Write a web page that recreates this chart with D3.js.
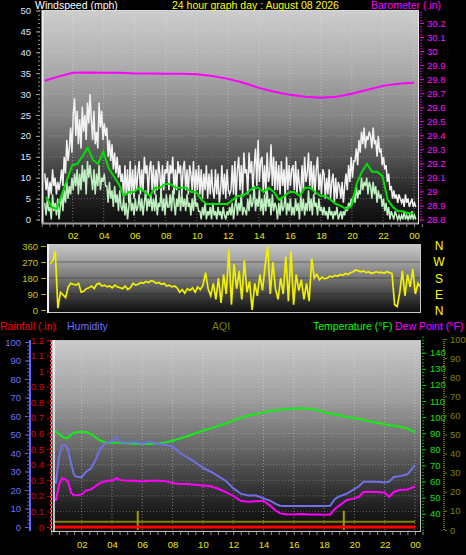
<!DOCTYPE html>
<html><head><meta charset="utf-8">
<script src="https://cdn.jsdelivr.net/npm/d3@7"></script>
<style>body{margin:0;background:#000}svg{display:block}text{font-family:"Liberation Sans",Arial,sans-serif}</style>
</head><body><svg id="c" width="466" height="555"></svg>
<script>
// ---------- DATA ----------
const hourLabels = ["02","04","06","08","10","12","14","16","18","20","22","00"];
// wind samples every 5 min starting 00:12
const windStart = 0.2, windStep = 1/12;
const gust = [11,7,10,5,9,6,12,8,10,6,9,7, 9,12,8,15,11,19,14,17,22,16,25,29,
  20,26,18,24,17,27,21,25,19,28,23,30, 24,19,26,18,21,17,28,22,26,19,23,20,
  22,15,19,14,18,12,16,11,15,10,13,9, 11,5,13,6,12,4,14,6,12,5,13,7,
  11,14,6,12,7,15,11,13,6,12,14,7, 13,6,12,7,14,11,6,13,7,12,11,14,
  7,13,11,15,6,12,7,14,11,13,6,12, 14,7,12,6,13,11,7,14,6,12,7,13,
  6,12,5,11,7,13,5,11,6,12,7,5, 12,6,11,4,7,13,6,11,5,12,7,6,
  7,13,6,14,5,12,15,7,13,6,16,11, 12,6,16,11,14,7,13,17,8,19,9,14,
  15,7,13,6,16,9,11,18,8,15,7,14, 7,13,6,14,8,12,5,15,7,13,8,12,
  13,7,14,6,12,8,6,13,7,15,9,11, 16,8,14,7,13,6,12,15,7,11,6,12,
  11,5,10,6,12,5,9,11,4,10,5,9, 8,5,9,4,8,11,7,13,9,15,10,14,
  14,17,13,19,16,21,18,22,17,20,19,21, 20,17,22,18,19,15,20,16,17,13,15,12,
  13,9,11,7,8,5,7,5,6,4,6,5, 4,5,3,6,4,5,3,4,5,3,4,3];
const speed = [4,1,5,2,3,0,6,2,4,1,5,0, 3,6,2,7,4,9,5,8,6,10,7,11,
  8,12,6,11,7,13,9,12,6,14,10,13, 10,7,12,6,11,8,13,7,10,9,11,8,
  8,4,9,5,7,3,8,4,6,2,7,3, 2,5,1,4,0,3,6,2,4,1,5,2,
  3,6,2,5,1,4,7,2,5,3,6,2, 5,2,6,1,4,3,7,2,5,1,6,3,
  3,6,2,7,4,1,5,3,7,2,6,3, 5,2,6,3,4,1,5,2,6,3,4,2,
  2,0,3,1,4,0,2,1,3,0,4,1, 2,0,3,1,2,0,3,1,0,2,1,3,
  1,4,0,3,5,1,4,2,6,1,3,2, 1,5,2,6,3,4,8,2,5,3,7,2,
  5,1,6,2,7,3,5,1,6,2,4,3, 0,4,1,5,2,3,6,1,4,2,5,1,
  3,1,5,2,4,0,6,2,5,1,4,2, 7,2,5,1,6,3,4,1,5,2,3,1,
  3,1,2,0,3,1,2,0,2,1,3,0, 1,2,0,2,1,3,2,4,3,5,4,6,
  4,8,5,7,6,10,7,9,8,10,6,9, 8,5,9,6,8,4,7,5,6,3,5,2,
  4,1,3,0,2,1,0,2,1,0,1,0, 1,0,2,0,1,0,1,0,2,0,1,0];
// average wind every 20 min starting 00:18
const avgStart = 0.3, avgStep = 1/3;
const avgWind = [5.5,3,2.5,6,9.5,13, 13.3,15.2,17.2,14.3,13.3,16.2, 12.4,10.4,8.5,5.6,6.6,6.6,
  7.6,6.6,5.6,7.6,7.6,8.5, 8.5,7.6,7.6,7.6,6.6,6.6, 4.7,3.7,3.7,3.7,3.7,3.7,
  4.7,5.6,5.6,6.6,7.6,7.6, 6.6,7.6,6.6,4.7,5.6,6.6, 6.6,5.6,7.6,7.6,6.6,5.6,
  5.6,4.7,3.7,3.2,2.5,3.2, 8.5,11.4,13.3,11.4,11.4,10.4, 4.7,3,2,2,1.5,1.5];
// barometer hourly
const baroHours = [0.2,1,2,3,4,5,6,7,8,9,10,11,12,13,14,15,16,17,18,19,20,21,22,23,24];
const baro = [29.788,29.816,29.845,29.848,29.845,29.845,29.841,29.841,29.838,29.838,29.834,29.823,29.802,
  29.774,29.738,29.710,29.688,29.674,29.667,29.674,29.696,29.724,29.752,29.767,29.774];
// wind direction every 10 min starting 00:12
const dirStart = 0.2, dirStep = 1/6;
const windDir = [262,275,330,10,100,85,70,130,150,145,140,150,100,105,120,125,135,120,145,150,
  135,140,130,135,125,140,130,125,120,135,115,125,150,140,145,155,150,160,155,165,
  160,150,155,145,150,135,140,130,135,125,100,115,95,120,110,125,100,130,115,140,
  210,120,80,150,60,180,40,200,90,340,30,260,120,220,60,280,100,160,0,150,
  80,200,110,250,360,90,270,120,60,180,90,300,50,330,30,200,110,170,60,150,
  50,290,180,200,170,185,175,180,190,185,195,190,200,195,205,200,210,215,225,220,
  215,220,210,215,205,210,215,210,212,208,215,210,205,30,20,100,220,80,200,130,
  230,90,150,130];
const dirLabels = ["N","W","S","E","N"];
// temperature / humidity / dew point
const thHours = [0.1,0.3,0.5,0.7,0.9,1.1,1.3,1.5,1.7,2.0,2.3,2.6,2.9,3.2,3.5,3.8,4.1,4.3,4.5,5,5.5,6,6.5,7,7.5,8,8.5,9,9.5,10,
  10.5,11,11.5,12,12.5,13,13.5,14,14.5,14.8,15.1,15.5,16,16.5,17,17.5,18,18.4,18.7,19,19.5,20,20.3,20.6,21,21.5,22,22.3,22.6,23,23.5,24];
const temperature = [91.4,91,89.5,88,87,87,89,90.5,90.8,90.8,90.8,89.5,87.5,85.5,84.5,84,84,84,84,83.8,83.5,83.3,83.3,83.6,84.2,85.3,86.8,88.3,90,91.5,
  93,94.5,96,97.8,99.5,101,102,102.8,104,104.3,104.6,105,105.3,105.5,105.2,104.5,103,102.3,101.8,101.2,100,99.3,98.8,98.2,97.4,96.5,95.6,95,94.6,94,93,90.5];
const humidity = [24,24,38,44,44.5,42,34,28,27,27,30,31.5,36,42,45,46,46.5,48.5,46,45.5,46,45,46,45,44.5,43.5,40,37.5,35,32,
  30,27.5,25,21,18,17,17,15.5,14,12.5,11.5,11.3,11.3,11.3,11.3,11.3,11.3,11.5,15,16.5,18,20.5,22,24.5,24.5,24.5,24,24.5,27,27.5,28.5,33.5];
const dewPoint = [48.5,48.5,58,62,61.5,60,53,51.5,51.5,52,54.5,55,57,59,60,60.5,60.8,62,61,60.5,60.5,60,60.5,60.5,60.3,59,58.5,58.5,58,57.5,
  57,55.5,53.5,51,48,47.5,47.8,48,44.5,42,40.2,39.7,39.5,39.8,39.5,39.5,39.3,39.5,43,45,48.5,49.5,50.5,53.5,53.6,53.5,53,50.5,53.5,54.7,55,57];
// hourly rain and AQI
const hourly = d3.range(0, 25);
const rainfall = [0,0,0,0,0,0,0,0,0,0,0,0,0,0,0,0,0,0,0,0,0,0,0,0,0];
const aqi = [4.3,4.3,4.3,4.3,4.3,4.3,4.3,4.3,4.3,4.3,4.3,4.3,4.3,4.3,4.3,4.3,4.3,4.3,4.3,4.3,4.3,4.3,4.3,4.3,4.3];
const aqiSpikeHours = [5.7, 19.3];
const aqiSpikeValues = [10, 10];

// ---------- DRAW ----------
const svg = d3.select("#c");
svg.append("rect").attr("width",466).attr("height",555).attr("fill","#000");
const defs = svg.append("defs");
function grad(id, stops){
  const g = defs.append("linearGradient").attr("id",id).attr("x1",0).attr("y1",0).attr("x2",0).attr("y2",1);
  stops.forEach(([o,c]) => g.append("stop").attr("offset",o).attr("stop-color",c));
}
grad("gTop", [[0,"#cdcdcd"],[0.25,"#afafaf"],[0.5,"#848484"],[0.7,"#505050"],[0.85,"#262626"],[1,"#0c0c0c"]]);
grad("gDir", [[0,"#c8c8c8"],[0.3,"#9a9a9a"],[0.55,"#6a6a6a"],[0.8,"#333"],[1,"#0e0e0e"]]);
grad("gBot", [[0,"#cbcbcb"],[0.3,"#a0a0a0"],[0.55,"#6a6a6a"],[0.75,"#3a3a3a"],[0.9,"#191919"],[1,"#0a0a0a"]]);
function clip(id,x,y,w,h){ defs.append("clipPath").attr("id",id).append("rect").attr("x",x).attr("y",y).attr("width",w).attr("height",h); }

const hourTicks = hourLabels.map((d,i)=>2*(i+1));
const fmtHour = h => hourLabels[h/2-1];

// ===== TOP: wind / barometer =====
const T = {x0:42, x1:419, y0:10, y1:224};
const xW = d3.scaleLinear().domain([0,24]).range([41.7,414]);
const yW = d3.scaleLinear().domain([0,50]).range([219.5,10.5]);
const yB = d3.scaleLinear().domain([28.8,30.2]).range([219.5,23]);
svg.append("rect").attr("x",T.x0).attr("y",T.y0).attr("width",T.x1-T.x0).attr("height",T.y1-T.y0).attr("fill","url(#gTop)");
clip("cTop",T.x0+1,T.y0+1,T.x1-T.x0-2,T.y1-T.y0-2);
const gTopGrid = svg.append("g");
hourTicks.forEach(h=>gTopGrid.append("line").attr("x1",xW(h)).attr("x2",xW(h)).attr("y1",T.y0).attr("y2",T.y1)
  .attr("stroke","rgba(230,230,230,0.45)").attr("stroke-dasharray","1,2"));
d3.range(5,50,5).forEach(v=>gTopGrid.append("line").attr("x1",T.x0).attr("x2",T.x1).attr("y1",yW(v)).attr("y2",yW(v))
  .attr("stroke","rgba(230,230,230,0.3)").attr("stroke-dasharray","1,2"));
const gTopData = svg.append("g").attr("clip-path","url(#cTop)");
const lineW = (start,step)=>d3.line().x((d,i)=>xW(start+i*step)).y(d=>yW(d));
gTopData.append("path").datum(gust).attr("d",lineW(windStart,windStep)).attr("fill","none").attr("stroke","#f2f2f2").attr("stroke-width",1.5);
gTopData.append("path").datum(speed).attr("d",lineW(windStart,windStep)).attr("fill","none").attr("stroke","#bff0bf").attr("stroke-width",1.5);
gTopData.append("path").datum(avgWind).attr("d",lineW(avgStart,avgStep)).attr("fill","none").attr("stroke","#00e000").attr("stroke-width",2);
gTopData.append("path").datum(baro).attr("d",d3.line().x((d,i)=>xW(baroHours[i])).y(d=>yB(d))).attr("fill","none").attr("stroke","#ff00ff").attr("stroke-width",2);
// frame
svg.append("line").attr("x1",T.x0+0.5).attr("x2",T.x0+0.5).attr("y1",T.y0).attr("y2",T.y1).attr("stroke","#f0f0f0").attr("stroke-width",2);
svg.append("line").attr("x1",T.x0).attr("x2",T.x1).attr("y1",T.y0+0.5).attr("y2",T.y0+0.5).attr("stroke","#d8d8d8");
svg.append("line").attr("x1",T.x0).attr("x2",T.x1).attr("y1",T.y1-0.5).attr("y2",T.y1-0.5).attr("stroke","#a0a0a0").attr("stroke-width",2);
svg.append("line").attr("x1",T.x1-0.5).attr("x2",T.x1-0.5).attr("y1",T.y0).attr("y2",T.y1).attr("stroke","#e8e8e8");
// left axis
const axL = svg.append("g").attr("transform",`translate(${T.x0-2},0)`)
  .call(d3.axisLeft(yW).tickValues(d3.range(0,51,5)).tickSize(4).tickPadding(5));
axL.select(".domain").remove();
axL.selectAll("line").attr("stroke","#a8a8a8");
axL.selectAll("text").attr("fill","#dce6ff").attr("font-size",9.5);
const axLm = svg.append("g").attr("transform",`translate(${T.x0-2},0)`)
  .call(d3.axisLeft(yW).tickValues(d3.range(0,51,1)).tickSize(2).tickFormat(""));
axLm.select(".domain").remove(); axLm.selectAll("line").attr("stroke","#909090");
// right axis
const axR = svg.append("g").attr("transform",`translate(${T.x1+1},0)`)
  .call(d3.axisRight(yB).tickValues(d3.range(28.8,30.25,0.1)).tickSize(4).tickPadding(3).tickFormat(d=>d3.format(".1f")(d).replace(/\.0$/,"")));
axR.select(".domain").remove();
axR.selectAll("line").attr("stroke","#ff00ff");
axR.selectAll("text").attr("fill","#ff10ff").attr("font-size",9.5);
const axRm = svg.append("g").attr("transform",`translate(${T.x1+1},0)`)
  .call(d3.axisRight(yB).tickValues(d3.range(28.8,30.3,0.02)).tickSize(2).tickFormat(""));
axRm.select(".domain").remove(); axRm.selectAll("line").attr("stroke","#d000d0");
// bottom axis
const axB = svg.append("g").attr("transform",`translate(0,${T.y1})`)
  .call(d3.axisBottom(xW).tickValues(hourTicks).tickSize(0).tickPadding(8).tickFormat(fmtHour));
axB.select(".domain").remove();
axB.selectAll("text").attr("fill","#e8e800").attr("font-size",9.5);
const axBm = svg.append("g").attr("transform",`translate(0,${T.y1})`)
  .call(d3.axisBottom(xW).tickValues(d3.range(0,25,0.5)).tickSize(3).tickFormat(""));
axBm.select(".domain").remove(); axBm.selectAll("line").attr("stroke","#909090");
// titles
svg.append("text").attr("x",35).attr("y",9).attr("fill","#fff").attr("font-size",10.5).text("Windspeed (mph)");
svg.append("text").attr("x",172).attr("y",9).attr("fill","#ffff00").attr("font-size",10.5).text("24 hour graph day : August 08 2026");
svg.append("text").attr("x",371).attr("y",9).attr("fill","#ff00ff").attr("font-size",10.5).text("Barometer (.in)");

// ===== WIND DIRECTION =====
const D = {x0:47, x1:421, y0:244, y1:313};
const xD = d3.scaleLinear().domain([0,24]).range([47,420]);
const yD = d3.scaleLinear().domain([0,360]).range([310,246]);
svg.append("rect").attr("x",D.x0).attr("y",D.y0).attr("width",D.x1-D.x0).attr("height",D.y1-D.y0).attr("fill","url(#gDir)");
clip("cDir",D.x0+1,D.y0+1,D.x1-D.x0-2,D.y1-D.y0-2);
[90,180,270].forEach(v=>svg.append("line").attr("x1",D.x0).attr("x2",D.x1).attr("y1",yD(v)).attr("y2",yD(v)).attr("stroke","rgba(40,40,40,0.5)"));
svg.append("g").attr("clip-path","url(#cDir)").append("path").datum(windDir)
  .attr("d",d3.line().x((d,i)=>xD(dirStart+i*dirStep)).y(d=>yD(d)))
  .attr("fill","none").attr("stroke","#f0f000").attr("stroke-width",1.7);
svg.append("rect").attr("x",D.x0+0.5).attr("y",D.y0+0.5).attr("width",D.x1-D.x0-1).attr("height",D.y1-D.y0-1).attr("fill","none").attr("stroke","#c8c8c8");
svg.append("line").attr("x1",D.x0+1).attr("x2",D.x0+1).attr("y1",D.y0).attr("y2",D.y1).attr("stroke","#f0f0f0").attr("stroke-width",2);
const axD = svg.append("g").attr("transform",`translate(${D.x0-1},0)`)
  .call(d3.axisLeft(yD).tickValues([0,90,180,270,360]).tickSize(5).tickPadding(3));
axD.select(".domain").remove();
axD.selectAll("line").attr("stroke","#b0b000");
axD.selectAll("text").attr("fill","#c8c800").attr("font-size",9.5);
const yDir = d3.scaleLinear().domain([0,4]).range([246,311]);
svg.append("g").selectAll("text").data(dirLabels).join("text")
  .attr("x",439).attr("y",(d,i)=>yDir(i)).attr("dy","0.35em").attr("text-anchor","middle")
  .attr("fill","#ffff00").attr("font-size",12).text(d=>d);

// ===== BOTTOM: rain / humidity / temperature =====
const B = {x0:51, x1:421, y0:340, y1:532};
const xT = d3.scaleLinear().domain([0,24]).range([51.4,415]);
const yR = d3.scaleLinear().domain([0,1.2]).range([527,340]);
const yH = d3.scaleLinear().domain([0,100]).range([527,342]);
const yT = d3.scaleLinear().domain([40,140]).range([513.7,352.7]);
const yA = d3.scaleLinear().domain([0,100]).range([530,339]);
svg.append("rect").attr("x",B.x0).attr("y",B.y0).attr("width",B.x1-B.x0).attr("height",B.y1-B.y0).attr("fill","url(#gBot)");
clip("cBot",B.x0+3,B.y0+1,B.x1-B.x0-4,B.y1-B.y0-2);
const gBG = svg.append("g");
hourTicks.forEach(h=>gBG.append("line").attr("x1",xT(h)).attr("x2",xT(h)).attr("y1",B.y0).attr("y2",B.y1)
  .attr("stroke","rgba(230,230,230,0.45)").attr("stroke-dasharray","1,2"));
d3.range(1,12).map(k=>k/10).forEach(v=>gBG.append("line").attr("x1",B.x0).attr("x2",B.x1).attr("y1",yR(v)).attr("y2",yR(v))
  .attr("stroke","rgba(230,230,230,0.3)").attr("stroke-dasharray","1,2"));
const gBD = svg.append("g").attr("clip-path","url(#cBot)");
gBD.append("path").datum(aqi).attr("d",d3.line().x((d,i)=>xT(hourly[i])).y(d=>yA(d))).attr("fill","none").attr("stroke","#808000").attr("stroke-width",2);
aqiSpikeHours.forEach((h,i)=>gBD.append("line").attr("x1",xT(h)).attr("x2",xT(h)).attr("y1",yA(0)).attr("y2",yA(aqiSpikeValues[i])).attr("stroke","#a0a000").attr("stroke-width",2));
gBD.append("path").datum(temperature).attr("d",d3.line().x((d,i)=>xT(thHours[i])).y(d=>yT(d))).attr("fill","none").attr("stroke","#10f010").attr("stroke-width",2);
gBD.append("path").datum(humidity).attr("d",d3.line().x((d,i)=>xT(thHours[i])).y(d=>yH(d))).attr("fill","none").attr("stroke","#7070e8").attr("stroke-width",2);
gBD.append("path").datum(dewPoint).attr("d",d3.line().x((d,i)=>xT(thHours[i])).y(d=>yT(d))).attr("fill","none").attr("stroke","#ff00ff").attr("stroke-width",2);
gBD.append("path").datum(rainfall).attr("d",d3.line().x((d,i)=>xT(hourly[i])).y(d=>yR(d))).attr("fill","none").attr("stroke","#ff0000").attr("stroke-width",3);
// frame
svg.append("rect").attr("x",B.x0+0.5).attr("y",B.y0+0.5).attr("width",B.x1-B.x0-1).attr("height",B.y1-B.y0-1).attr("fill","none").attr("stroke","#c0c0c0");
svg.append("line").attr("x1",B.x0+3).attr("x2",B.x0+3).attr("y1",B.y0).attr("y2",B.y1).attr("stroke","#f4f4f4").attr("stroke-width",1.5);
svg.append("line").attr("x1",B.x0).attr("x2",B.x0).attr("y1",B.y0).attr("y2",B.y1).attr("stroke","#ff2020").attr("stroke-width",2).attr("stroke-dasharray","2,2");
// humidity axis
svg.append("line").attr("x1",30).attr("x2",30).attr("y1",340).attr("y2",531).attr("stroke","#6464ff").attr("stroke-width",2);
const axH = svg.append("g").attr("transform","translate(29,0)")
  .call(d3.axisLeft(yH).tickValues(d3.range(0,101,10)).tickSize(4).tickPadding(4));
axH.select(".domain").remove(); axH.selectAll("line").attr("stroke","#6464ff");
axH.selectAll("text").attr("fill","#7070ff").attr("font-size",9.5);
const axHm = svg.append("g").attr("transform","translate(29,0)")
  .call(d3.axisLeft(yH).tickValues(d3.range(0,101,2)).tickSize(2).tickFormat(""));
axHm.select(".domain").remove(); axHm.selectAll("line").attr("stroke","#5050d0");
// rain axis
const axRa = svg.append("g").attr("transform","translate(49,0)")
  .call(d3.axisLeft(yR).tickValues(d3.range(0,13).map(k=>k/10)).tickSize(2).tickPadding(3).tickFormat(d=>d3.format(".1f")(d).replace(/\.0$/,"")));
axRa.select(".domain").remove(); axRa.selectAll("line").attr("stroke","#e00000");
axRa.selectAll("text").attr("fill","#e00000").attr("font-size",9.5);
// temperature axis
const axT = svg.append("g").attr("transform",`translate(${B.x1+1},0)`)
  .call(d3.axisRight(yT).tickValues(d3.range(40,141,10)).tickSize(4).tickPadding(4));
axT.select(".domain").remove(); axT.selectAll("line").attr("stroke","#00d000");
axT.selectAll("text").attr("fill","#10e010").attr("font-size",9.5);
const axTm = svg.append("g").attr("transform",`translate(${B.x1+1},0)`)
  .call(d3.axisRight(yT).tickValues(d3.range(30,151,2)).tickSize(2).tickFormat(""));
axTm.select(".domain").remove(); axTm.selectAll("line").attr("stroke","#00b000");
// AQI axis
svg.append("line").attr("x1",444).attr("x2",444).attr("y1",339).attr("y2",531).attr("stroke","#707000").attr("stroke-width",2).attr("stroke-dasharray","1,1");
const axA = svg.append("g").attr("transform","translate(445,0)")
  .call(d3.axisRight(yA).tickValues(d3.range(0,101,10)).tickSize(2).tickPadding(3));
axA.select(".domain").remove(); axA.selectAll("line").attr("stroke","#808000");
axA.selectAll("text").attr("fill","#808000").attr("font-size",9.5);
// bottom axis
const axBB = svg.append("g").attr("transform",`translate(0,${B.y1})`)
  .call(d3.axisBottom(xT).tickValues(hourTicks).tickSize(0).tickPadding(9).tickFormat(fmtHour));
axBB.select(".domain").remove();
axBB.selectAll("text").attr("fill","#e8e800").attr("font-size",9.5);
const axBBm = svg.append("g").attr("transform",`translate(0,${B.y1})`)
  .call(d3.axisBottom(xT).tickValues(d3.range(0,25,0.5)).tickSize(3).tickFormat(""));
axBBm.select(".domain").remove(); axBBm.selectAll("line").attr("stroke","#909090");
// headers
svg.append("text").attr("x",0).attr("y",330).attr("fill","#ff0000").attr("font-size",10.5).text("Rainfall (.in)");
svg.append("text").attr("x",67).attr("y",330).attr("fill","#7070ff").attr("font-size",10.5).text("Humidity");
svg.append("text").attr("x",212).attr("y",330).attr("fill","#808000").attr("font-size",10.5).text("AQI");
svg.append("text").attr("x",313).attr("y",330).attr("fill","#00ff00").attr("font-size",10.5).text("Temperature (°F)");
svg.append("text").attr("x",395).attr("y",330).attr("fill","#ff00ff").attr("font-size",10.5).text("Dew Point (°F)");
</script></body></html>
